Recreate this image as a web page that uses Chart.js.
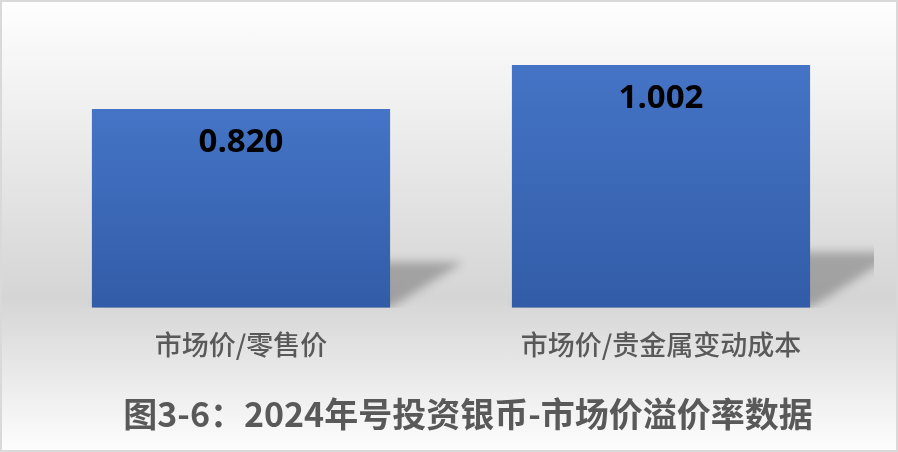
<!DOCTYPE html>
<html>
<head>
<meta charset="utf-8">
<script src="https://cdn.jsdelivr.net/npm/chart.js"></script>
<style>
  html, body { margin: 0; padding: 0; }
  #wrap {
    position: absolute; left: 0; top: 0;
    width: 898px; height: 452px;
    box-sizing: border-box;
    border: 2px solid #d9d9d9;
    background: linear-gradient(to bottom, #fefefe 0%, #d5d5d5 66%, #fdfdfd 100%);
  }
</style>
</head>
<body>
<div id="wrap"><canvas id="premiumChart"></canvas></div>
<script>
// data
const categories = ["市场价/零售价", "市场价/贵金属变动成本"];
const premiumRatio = [0.820, 1.002];
const chartTitle = "图3-6：2024年号投资银币-市场价溢价率数据";

// gradient fill per bar, from the y scale
function barFill(context) {
    const chart = context.chart;
    const y = chart.scales.y;
    if (!y || context.raw === undefined) return "#3f69b8";
    const top = y.getPixelForValue(context.raw);
    const bottom = y.getPixelForValue(0);
    if (!isFinite(top) || !isFinite(bottom) || top === bottom) return "#3f69b8";
    const g = chart.ctx.createLinearGradient(0, top, 0, bottom);
    g.addColorStop(0, "#4574c6");
    g.addColorStop(1, "#325ca7");
    return g;
}

// perspective shadows + value labels
const barDecor = {
    id: "barDecor",
    beforeDatasetsDraw(chart) {
        const ctx = chart.ctx, area = chart.chartArea;
        ctx.save();
        ctx.beginPath();
        ctx.rect(area.left, 0, area.right - area.left + 3, area.bottom);
        ctx.clip();
        ctx.filter = "blur(5px)";
        ctx.fillStyle = "rgba(0,0,0,0.25)";
        chart.getDatasetMeta(0).data.forEach(bar => {
            const h = bar.base - bar.y;
            const sh = h * 0.23, dx = sh * 1.6;
            const l = bar.x - bar.width / 2, r = bar.x + bar.width / 2;
            ctx.beginPath();
            ctx.moveTo(l, bar.base);
            ctx.lineTo(r, bar.base);
            ctx.lineTo(r + dx, bar.base - sh);
            ctx.lineTo(l + dx, bar.base - sh);
            ctx.closePath();
            ctx.fill();
        });
        ctx.restore();
    },
    afterDatasetsDraw(chart) {
        const ctx = chart.ctx;
        ctx.save();
        ctx.font = "bold 33px 'Open Sans'";
        ctx.fillStyle = "#000000";
        ctx.textAlign = "center";
        ctx.textBaseline = "middle";
        chart.getDatasetMeta(0).data.forEach((bar, i) => {
            ctx.fillText(premiumRatio[i].toFixed(3), bar.x, bar.y + 34);
        });
        ctx.restore();
    },
    afterLayout(chart) {
        // title sits a little right of centre in the original
        if (chart.titleBlock) {
            chart.titleBlock.left += 17;
            chart.titleBlock.right += 17;
        }
    }
};

new Chart(document.getElementById("premiumChart"), {
    type: "bar",
    data: {
        labels: categories,
        datasets: [{
            label: "溢价率",
            data: premiumRatio,
            backgroundColor: barFill,
            borderWidth: 0,
            barPercentage: 0.71,
            categoryPercentage: 1.0
        }]
    },
    options: {
        responsive: true,
        maintainAspectRatio: false,
        animation: false,
        layout: { padding: { left: 29, right: 25, top: 15, bottom: 16 } },
        plugins: {
            legend: { display: false },
            tooltip: { enabled: false },
            title: {
                display: true,
                position: "bottom",
                text: chartTitle,
                color: "#595959",
                font: { family: "'Noto Sans CJK SC'", size: 34, weight: "bold" },
                padding: { top: 19, bottom: 0 }
            }
        },
        scales: {
            x: {
                grid: { display: false },
                border: { display: false },
                ticks: {
                    color: "#595959",
                    font: { family: "'Noto Sans CJK SC'", size: 27, weight: 500 },
                    padding: 13
                }
            },
            y: {
                display: false,
                min: 0,
                max: 1.2
            }
        }
    },
    plugins: [barDecor]
});
</script>
</body>
</html>
